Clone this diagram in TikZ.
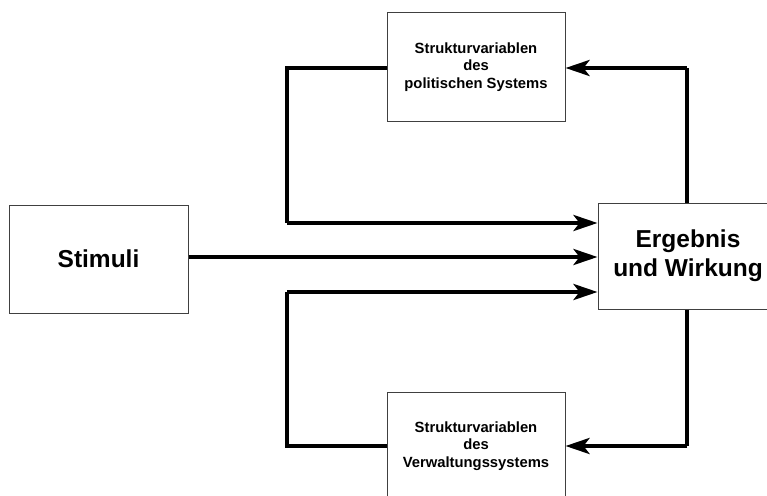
\documentclass[tikz,border=0pt]{standalone}
\usepackage{fontspec}
\setmainfont{Liberation Sans}
\usetikzlibrary{arrows.meta}
\begin{document}
\begin{tikzpicture}[x=1pt,y=-1pt,
  box/.style={draw=black!75,line width=1pt,fill=white,inner sep=0pt,align=center},
  small/.style={font=\bfseries\fontsize{14.8}{17.5}\selectfont},
  large/.style={font=\bfseries\fontsize{24.5}{29}\selectfont},
  flow/.style={line width=4pt,line join=miter},
  tip/.style={-{Stealth[length=24pt,width=16pt,inset=6pt]}}]
\useasboundingbox (0,0) rectangle (767,495);
% boxes
\node[box,small,minimum width=178pt,minimum height=108pt] (pol) at (476,67) {Strukturvariablen\\des\\politischen Systems};
\node[box,small,minimum width=178pt,minimum height=108pt] (verw) at (476,446) {Strukturvariablen\\des\\Verwaltungssystems};
\node[box,large,minimum width=179pt,minimum height=108pt] (stim) at (98.5,259) {Stimuli};
\node[box,large,minimum width=180pt,minimum height=106pt] (erg) at (688,256) {Ergebnis\\und Wirkung};
% routing points
\coordinate (ul) at (287,68);
\coordinate (ll) at (287,223);
\coordinate (bl) at (287,446);
\coordinate (tl) at (287,292);
\coordinate (ur) at (687,68);
\coordinate (br) at (687,446);
% connectors
\draw[flow] (pol.west |- ul) -- (ul) -- (ll);
\draw[flow,tip] (ll) -- (ll -| erg.west);
\draw[flow,tip] (stim.east |- 0,257) -- (erg.west |- 0,257);
\draw[flow] (verw.west |- bl) -- (bl) -- (tl);
\draw[flow,tip] (tl) -- (tl -| erg.west);
\draw[flow] (erg.north -| ur) -- (ur);
\draw[flow,tip] (ur) -- (ur -| pol.east);
\draw[flow] (erg.south -| br) -- (br);
\draw[flow,tip] (br) -- (br -| verw.east);
\end{tikzpicture}
\end{document}
